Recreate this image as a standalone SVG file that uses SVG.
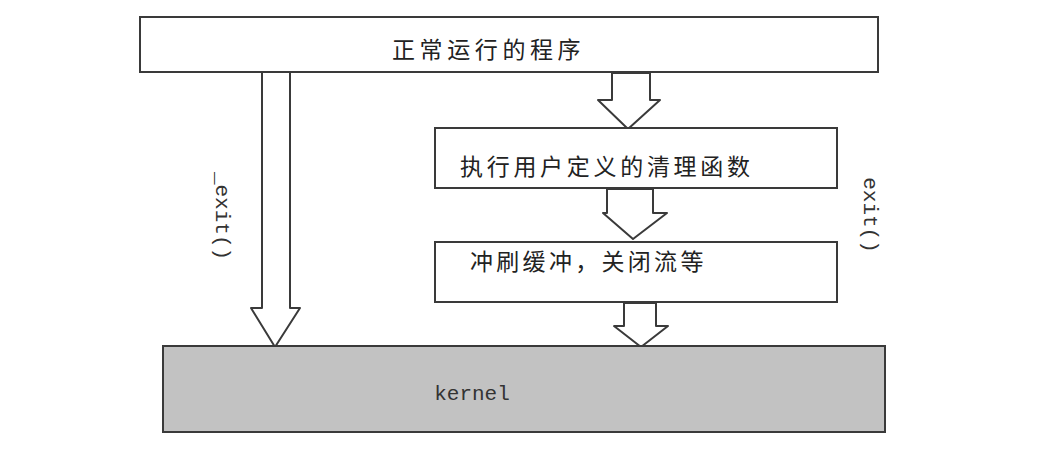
<svg xmlns="http://www.w3.org/2000/svg" width="1044" height="453" viewBox="0 0 1044 453">
<style>
.box{fill:#fff;stroke:#3a3a3a;stroke-width:2}
.kbox{fill:#c2c2c2;stroke:#3a3a3a;stroke-width:2}
.arr{fill:#fff;stroke:#3a3a3a;stroke-width:2;stroke-linejoin:round}
.cn{font-family:"Noto Sans CJK SC","Noto Sans",sans-serif;font-size:23px;fill:#222;letter-spacing:3.7px}
.mono{font-family:"Liberation Mono","DejaVu Sans Mono",monospace;font-size:21px;fill:#333}
</style>
<rect width="1044" height="453" fill="#fff"/>
<g id="connectors">
<polygon class="arr" points="262,71 290,71 290,308 300,308 275,347 251,308 262,308"/>
<polygon class="arr" points="612,73 650,73 650,100 660,100 628,129 598,100 612,100"/>
<polygon class="arr" points="607,189 653,189 653,213 667,213 633,239 603,213 607,213"/>
<polygon class="arr" points="624,303 656,303 656,326 668,326 641,347 614,326 624,326"/>
</g>
<g id="node-program">
<rect class="box" x="140" y="17" width="738" height="55"/>
<text class="cn" x="392" y="58" style="letter-spacing:4.6px">正常运行的程序</text>
</g>
<g id="node-cleanup">
<rect class="box" x="435" y="128" width="402" height="60"/>
<text class="cn" x="460" y="175">执行用户定义的清理函数</text>
</g>
<g id="node-flush">
<rect class="box" x="435" y="242" width="402" height="60"/>
<text class="cn" x="470" y="270" style="letter-spacing:3.3px">冲刷缓冲，关闭流等</text>
</g>
<g id="node-kernel">
<rect class="kbox" x="163" y="346" width="722" height="86"/>
<text class="mono" x="472" y="400" text-anchor="middle" font-size="22">kernel</text>
</g>
<g id="label-_exit">
<text class="mono" transform="translate(216,216) rotate(90)" text-anchor="middle">_exit()</text>
</g>
<g id="label-exit">
<text class="mono" transform="translate(864,215) rotate(90)" text-anchor="middle">exit()</text>
</g>
</svg>
